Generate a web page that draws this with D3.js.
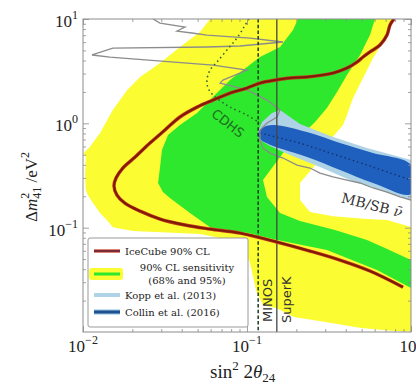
<!DOCTYPE html>
<html>
<head>
<meta charset="utf-8">
<script src="https://cdn.jsdelivr.net/npm/d3@7"></script>
<style>
  body { margin: 0; background: #fff; }
  svg { display: block; }
</style>
</head>
<body>
<div id="chart"></div>
<script>
const W = 416, H = 384;
const margin = { top: 19, right: 5, bottom: 52, left: 83 };

// axes
const xDomain = [0.01, 1];
const yDomain = [0.01, 10];
const xMajor = [0.01, 0.1, 1];
const xTickExp = ["\u22122", "\u22121", "0"];
const yMajor = [0.1, 1, 10];
const yTickExp = ["\u22121", "0", "1"];

// all curves: [sin^2 2θ24, Δm^2_41 (eV^2)]
const sens95Outer = [
  [0.0595, 10], [0.0517, 7.51], [0.0390, 5.39], [0.0295, 3.79], [0.0223, 2.78],
  [0.0186, 2.09], [0.0152, 1.34], [0.0127, 0.807], [0.0110, 0.593], [0.0101, 0.519],
  [0.0104, 0.475], [0.0103, 0.319], [0.0104, 0.229], [0.0107, 0.206], [0.0115, 0.172],
  [0.0127, 0.138], [0.0140, 0.118], [0.0152, 0.101], [0.0202, 0.0928], [0.0517, 0.0868],
  [0.0906, 0.0728], [0.104, 0.0468], [0.1135, 0.0252], [0.125, 0.0181], [0.152, 0.0169],
  [0.193, 0.0139], [0.307, 0.0124], [0.496, 0.0109], [0.788, 0.0102], [1, 0.0101], [1, 10]
];
const sens68Band = [
  [0.2046, 10], [0.1908, 7.84], [0.159, 5.39], [0.12, 4.32], [0.1, 3.47], [0.0788, 2.60],
  [0.0620, 1.79], [0.0496, 1.255], [0.0390, 0.963], [0.0330, 0.772], [0.0303, 0.555],
  [0.0295, 0.381], [0.0287, 0.268], [0.0307, 0.2195], [0.0339, 0.192], [0.0449, 0.138],
  [0.0595, 0.101], [0.1014, 0.0887], [0.1524, 0.076], [0.307, 0.061], [0.620, 0.0392],
  [1, 0.0264],
  [1, 0.0489], [0.694, 0.0637], [0.539, 0.076], [0.344, 0.0948], [0.2105, 0.1157],
  [0.159, 0.138], [0.1324, 0.1966], [0.1252, 0.286], [0.1658, 0.519], [0.26, 1.029],
  [0.307, 1.402], [0.354, 2.0], [0.407, 2.90], [0.489, 4.52], [0.562, 7.02], [0.603, 10]
];
const insideBand = [
  [0.788, 10], [1, 10], [1, 0.1013], [0.714, 0.1183], [0.539, 0.1209], [0.3345, 0.129],
  [0.242, 0.141], [0.2105, 0.184], [0.2105, 0.268], [0.267, 0.416], [0.321, 0.692],
  [0.385, 0.963], [0.407, 1.20], [0.443, 1.75], [0.510, 2.72], [0.587, 4.23],
  [0.675, 6.02], [0.745, 8.20]
];
const icecube90 = [
  [0.788, 10], [0.745, 8.76], [0.714, 7.02], [0.647, 5.63], [0.562, 4.83], [0.510, 4.32],
  [0.4685, 3.87], [0.407, 3.39], [0.3345, 3.035], [0.232, 2.78], [0.183, 2.72],
  [0.150, 2.60], [0.12, 2.43], [0.1, 2.18], [0.0788, 1.95], [0.0620, 1.67], [0.0496, 1.43],
  [0.0390, 1.15], [0.0316, 0.863], [0.0256, 0.647], [0.0208, 0.475], [0.0175, 0.373],
  [0.0159, 0.299], [0.01545, 0.2505], [0.0161, 0.2055], [0.0180, 0.172], [0.0223, 0.144],
  [0.0295, 0.121], [0.0419, 0.106], [0.0595, 0.097], [0.0906, 0.0887], [0.1524, 0.0728],
  [0.242, 0.0597], [0.369, 0.0489], [0.562, 0.0384], [0.894, 0.0269]
];
const cdhs = [
  [0.1028, 10], [0.0959, 8.38], [0.0869, 6.57], [0.0755, 5.05], [0.0656, 3.87],
  [0.0595, 3.24], [0.0570, 2.60], [0.0579, 2.18], [0.0620, 1.87], [0.0704, 1.60],
  [0.0788, 1.43], [0.1, 1.20], [0.12, 1.007]
];
const mbsb = [
  [0.0267, 10], [0.0295, 9.15], [0.0419, 8.38], [0.0374, 7.67], [0.0462, 7.34],
  [0.0570, 7.02], [0.1043, 6.57], [0.1658, 6.02], [0.0906, 5.51], [0.0570, 5.39],
  [0.0152, 5.27], [0.01135, 4.52], [0.0146, 4.32], [0.0620, 3.62], [0.1, 3.24],
  [0.0714, 2.60], [0.0685, 2.43], [0.1, 2.09], [0.1324, 1.67], [0.159, 1.34],
  [0.1524, 1.15], [0.1324, 1.007], [0.12, 0.863], [0.12, 0.692], [0.1252, 0.580],
  [0.1381, 0.519], [0.1658, 0.465], [0.2018, 0.398], [0.2422, 0.373], [0.2786, 0.334],
  [0.3345, 0.306], [0.4072, 0.286], [0.4887, 0.268], [0.5866, 0.240], [0.714, 0.2195],
  [0.857, 0.197], [1, 0.184]
];
const kopp2013 = [
  [0.1167, 0.825], [0.1235, 1.029], [0.142, 1.255], [0.159, 1.34], [0.1829, 1.15],
  [0.2105, 0.985], [0.3345, 0.739], [0.539, 0.580], [1, 0.445], [1, 0.184],
  [0.647, 0.229], [0.4246, 0.286], [0.2786, 0.381], [0.1829, 0.497], [0.1381, 0.606],
  [0.12, 0.692]
];
const collin2016 = [
  [0.1151, 0.772], [0.1235, 0.9015], [0.144, 0.963], [0.2322, 0.825], [0.3691, 0.647],
  [0.5866, 0.519], [1, 0.398], [1, 0.210], [0.5866, 0.268], [0.3691, 0.357],
  [0.2322, 0.475], [0.144, 0.606], [0.1235, 0.6765]
];
const collinBest = [[0.12, 0.807], [0.2105, 0.647], [0.539, 0.398], [1, 0.286]];
const minosX = 0.117;
const superKX = 0.152;

const YELLOW = "#fcfc32", GREEN = "#2ee82e", LIGHTBLUE = "#aed3e6", BLUE = "#1f5fbe";
const RED = "#c4361a", DARKRED = "#7c1b08";

const svg = d3.select("#chart").append("svg").attr("width", W).attr("height", H);

const x = d3.scaleLog().domain(xDomain).range([margin.left, W - margin.right]);
const y = d3.scaleLog().domain(yDomain).range([H - margin.bottom, margin.top]);
const x0 = x.range()[0], x1 = x.range()[1], y0 = y.range()[0], y1 = y.range()[1];

svg.append("clipPath").attr("id", "clip").append("rect")
  .attr("x", x0).attr("y", y1).attr("width", x1 - x0).attr("height", y0 - y1);

const plot = svg.append("g").attr("clip-path", "url(#clip)");
const path = d3.line().x(d => x(d[0])).y(d => y(d[1]));
const smooth = d3.line().x(d => x(d[0])).y(d => y(d[1])).curve(d3.curveCatmullRom.alpha(0.5));

// sensitivity bands
plot.append("path").attr("d", path(sens95Outer) + "Z").attr("fill", YELLOW);
plot.append("path").attr("d", path(sens68Band) + "Z").attr("fill", GREEN);
plot.append("path").attr("d", path(insideBand) + "Z").attr("fill", "#fff");

// global fits
plot.append("path").attr("d", path(kopp2013) + "Z").attr("fill", LIGHTBLUE);
plot.append("path").attr("d", smooth(collin2016) + "Z").attr("fill", BLUE);
plot.append("path").attr("d", path(collinBest)).attr("fill", "none")
  .attr("stroke", "#142e66").attr("stroke-width", 1.3).attr("stroke-dasharray", "1.4,3");

// other experiments
plot.append("path").attr("d", path(mbsb)).attr("fill", "none")
  .attr("stroke", "#8c8c8c").attr("stroke-width", 1.3);
plot.append("path").attr("d", smooth(cdhs)).attr("fill", "none")
  .attr("stroke", "#2a5e2a").attr("stroke-width", 1.5).attr("stroke-dasharray", "1.5,3.2");
plot.append("line").attr("x1", x(minosX)).attr("x2", x(minosX)).attr("y1", y1).attr("y2", y0)
  .attr("stroke", "#1e3a1e").attr("stroke-width", 1.5).attr("stroke-dasharray", "3.5,2.2");
plot.append("line").attr("x1", x(superKX)).attr("x2", x(superKX)).attr("y1", y1).attr("y2", y0)
  .attr("stroke", "#444").attr("stroke-width", 1.3);

// IceCube
plot.append("path").attr("d", smooth(icecube90)).attr("fill", "none")
  .attr("stroke", RED).attr("stroke-width", 3.4);
plot.append("path").attr("d", smooth(icecube90)).attr("fill", "none")
  .attr("stroke", DARKRED).attr("stroke-width", 2);

// labels in the plot
const lab = svg.append("g");
lab.append("text").attr("transform", `translate(${x(0.0766)},${y(1.0)}) rotate(38)`)
  .attr("text-anchor", "middle").attr("dy", "0.35em")
  .style("font", "13px 'DejaVu Sans'").attr("fill", "#1f6e1f").text("CDHS");
const mb = lab.append("text").attr("transform", `translate(${x(0.578)},${y(0.1647)}) rotate(14)`)
  .attr("text-anchor", "middle").attr("dy", "0.35em")
  .style("font", "14px 'DejaVu Serif'").attr("fill", "#333");
mb.append("tspan").text("MB/SB ");
mb.append("tspan").style("font-style", "italic").text("\u03bd\u0304");
lab.append("text").attr("transform", `translate(${x(minosX) + 14},${y0 - 10}) rotate(-90)`)
  .style("font", "13px 'DejaVu Sans'").attr("fill", "#333").text("MINOS");
lab.append("text").attr("transform", `translate(${x(superKX) + 14},${y0 - 9}) rotate(-90)`)
  .style("font", "13px 'DejaVu Sans'").attr("fill", "#333").text("SuperK");

// axes: ticks pointing inward on all sides
const isMajor = v => Math.abs(Math.log10(v) - Math.round(Math.log10(v))) < 1e-6;
const xMinor = x.ticks().filter(v => !isMajor(v));
const yMinor = y.ticks().filter(v => !isMajor(v));
const AX = "#8c8c8c";

function addAxis(axis, tr) {
  const g = svg.append("g").attr("transform", tr).call(axis);
  g.select(".domain").remove();
  g.selectAll(".tick line").attr("stroke", AX).attr("stroke-width", 0.8);
}
addAxis(d3.axisBottom(x).tickValues(xMajor).tickSize(-6).tickFormat(""), `translate(0,${y0})`);
addAxis(d3.axisBottom(x).tickValues(xMinor).tickSize(-3).tickFormat(""), `translate(0,${y0})`);
addAxis(d3.axisTop(x).tickValues(xMajor).tickSize(-6).tickFormat(""), `translate(0,${y1})`);
addAxis(d3.axisTop(x).tickValues(xMinor).tickSize(-3).tickFormat(""), `translate(0,${y1})`);
addAxis(d3.axisLeft(y).tickValues(yMajor).tickSize(-6).tickFormat(""), `translate(${x0},0)`);
addAxis(d3.axisLeft(y).tickValues(yMinor).tickSize(-3).tickFormat(""), `translate(${x0},0)`);
addAxis(d3.axisRight(y).tickValues(yMajor).tickSize(-6).tickFormat(""), `translate(${x1},0)`);
addAxis(d3.axisRight(y).tickValues(yMinor).tickSize(-3).tickFormat(""), `translate(${x1},0)`);

svg.append("rect").attr("x", x0).attr("y", y1).attr("width", x1 - x0).attr("height", y0 - y1)
  .attr("fill", "none").attr("stroke", AX).attr("stroke-width", 1);

const tickFont = "17px 'Liberation Serif'";
xMajor.forEach((v, i) => {
  const t = svg.append("text").attr("x", x(v)).attr("y", y0 + 20)
    .attr("text-anchor", "middle").style("font", tickFont).attr("fill", "#222");
  t.append("tspan").text("10");
  t.append("tspan").attr("dy", -8).style("font-size", "12px").text(xTickExp[i]);
});
yMajor.forEach((v, i) => {
  const t = svg.append("text").attr("x", x0 - 5).attr("y", y(v) + 8)
    .attr("text-anchor", "end").style("font", tickFont).attr("fill", "#222");
  t.append("tspan").text("10");
  t.append("tspan").attr("dy", -8).style("font-size", "12px").text(yTickExp[i]);
});

// axis titles
const xt = svg.append("text").attr("x", 210).attr("y", y0 + 46)
  .style("font", "19px 'Liberation Serif'").attr("fill", "#222");
xt.append("tspan").text("sin");
xt.append("tspan").attr("dy", -8).style("font-size", "13px").text("2");
xt.append("tspan").attr("dy", 8).text(" 2");
xt.append("tspan").style("font-style", "italic").text("\u03b8");
xt.append("tspan").attr("dy", 4).style("font-size", "13px").text("24");

const yt = svg.append("text").attr("transform", "translate(37,222) rotate(-90)")
  .style("font", "17px 'Liberation Serif'").attr("fill", "#222");
yt.append("tspan").text("\u0394");
yt.append("tspan").style("font-style", "italic").text("m");
yt.append("tspan").attr("dy", -8).style("font-size", "12px").text("2");
yt.append("tspan").attr("dx", -6).attr("dy", 12).style("font-size", "12px").text("41");
yt.append("tspan").attr("dy", -4).text(" /eV");
yt.append("tspan").attr("dy", -8).style("font-size", "12px").text("2");

// legend
const leg = svg.append("g");
leg.append("rect").attr("x", 88).attr("y", 238).attr("width", 160).attr("height", 89)
  .attr("rx", 2).attr("fill", "#fff").attr("stroke", "#9a9a9a").attr("stroke-width", 1);
const lf = "10px 'DejaVu Serif'";
leg.append("line").attr("x1", 94).attr("x2", 120).attr("y1", 251).attr("y2", 251)
  .attr("stroke", RED).attr("stroke-width", 3.2);
leg.append("line").attr("x1", 94).attr("x2", 120).attr("y1", 251).attr("y2", 251)
  .attr("stroke", "#7c2a3a").attr("stroke-width", 2);
leg.append("text").attr("x", 125).attr("y", 254.5).style("font", lf).attr("fill", "#222")
  .text("IceCube 90% CL");
leg.append("rect").attr("x", 89).attr("y", 268).attr("width", 34).attr("height", 12)
  .attr("rx", 3).attr("fill", YELLOW);
leg.append("line").attr("x1", 94).attr("x2", 120).attr("y1", 274).attr("y2", 274)
  .attr("stroke", GREEN).attr("stroke-width", 3);
leg.append("text").attr("x", 187).attr("y", 270.5).attr("text-anchor", "middle")
  .style("font", lf).attr("fill", "#222").text("90% CL sensitivity");
leg.append("text").attr("x", 187).attr("y", 284).attr("text-anchor", "middle")
  .style("font", lf).attr("fill", "#222").text("(68% and 95%)");
leg.append("line").attr("x1", 94).attr("x2", 120).attr("y1", 295).attr("y2", 295)
  .attr("stroke", LIGHTBLUE).attr("stroke-width", 4);
leg.append("text").attr("x", 125).attr("y", 298.5).style("font", lf).attr("fill", "#222")
  .text("Kopp et al. (2013)");
leg.append("line").attr("x1", 94).attr("x2", 120).attr("y1", 312).attr("y2", 312)
  .attr("stroke", "#8ec3e0").attr("stroke-width", 5);
leg.append("line").attr("x1", 94).attr("x2", 120).attr("y1", 312).attr("y2", 312)
  .attr("stroke", "#1f4f8f").attr("stroke-width", 3);
leg.append("text").attr("x", 125).attr("y", 315.5).style("font", lf).attr("fill", "#222")
  .text("Collin et al. (2016)");
</script>
</body>
</html>
